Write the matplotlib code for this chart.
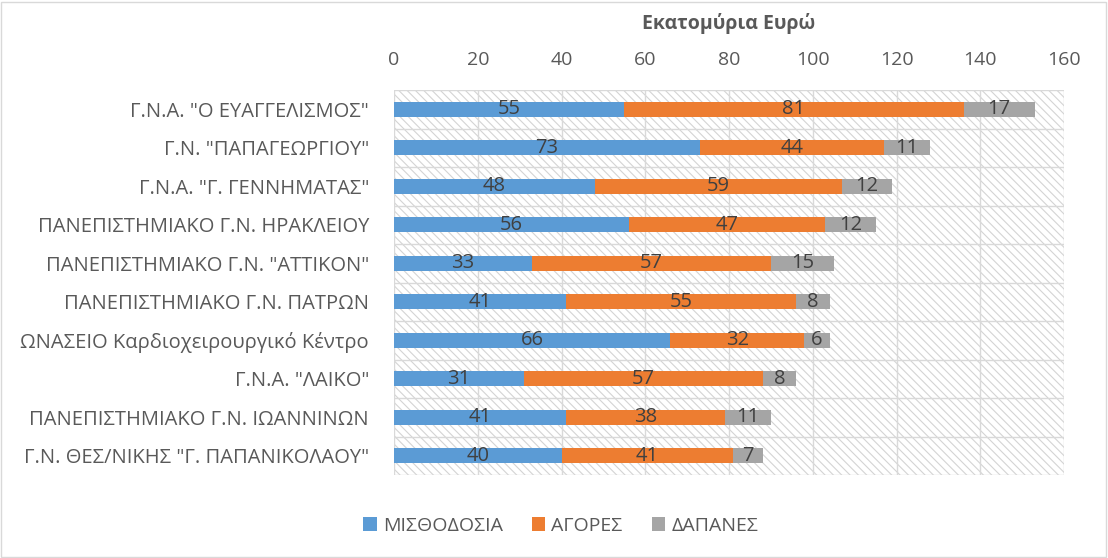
import matplotlib
matplotlib.use("Agg")
import matplotlib.pyplot as plt
from matplotlib.patches import Rectangle
import numpy as np

categories = [
    'Γ.Ν.Α. "Ο ΕΥΑΓΓΕΛΙΣΜΟΣ"',
    'Γ.Ν. "ΠΑΠΑΓΕΩΡΓΙΟΥ"',
    'Γ.Ν.Α. "Γ. ΓΕΝΝΗΜΑΤΑΣ"',
    'ΠΑΝΕΠΙΣΤΗΜΙΑΚΟ Γ.Ν. ΗΡΑΚΛΕΙΟΥ',
    'ΠΑΝΕΠΙΣΤΗΜΙΑΚΟ Γ.Ν. "ΑΤΤΙΚΟΝ"',
    'ΠΑΝΕΠΙΣΤΗΜΙΑΚΟ Γ.Ν. ΠΑΤΡΩΝ',
    'ΩΝΑΣΕΙΟ Καρδιοχειρουργικό Κέντρο',
    'Γ.Ν.Α. "ΛΑΙΚΟ"',
    'ΠΑΝΕΠΙΣΤΗΜΙΑΚΟ Γ.Ν. ΙΩΑΝΝΙΝΩΝ',
    'Γ.Ν. ΘΕΣ/ΝΙΚΗΣ "Γ. ΠΑΠΑΝΙΚΟΛΑΟΥ"',
]
misthodosia = [55, 73, 48, 56, 33, 41, 66, 31, 41, 40]
agores = [81, 44, 59, 47, 57, 55, 32, 57, 38, 41]
dapanes = [17, 11, 12, 12, 15, 8, 6, 8, 11, 7]
series_names = ["ΜΙΣΘΟΔΟΣΙΑ", "ΑΓΟΡΕΣ", "ΔΑΠΑΝΕΣ"]
colors = ["#5B9BD5", "#ED7D31", "#A5A5A5"]
xticks = [0, 20, 40, 60, 80, 100, 120, 140, 160]

plt.rcParams['font.family'] = ['Open Sans', 'DejaVu Sans']
plt.rcParams['hatch.linewidth'] = 0.8
text_color = "#595959"

fig = plt.figure(figsize=(11.08, 5.58), dpi=100)
fig.patch.set_facecolor("white")
fig.add_artist(Rectangle((0.001, 0.002), 0.997, 0.995, transform=fig.transFigure,
                         fill=False, edgecolor="#d9d9d9", linewidth=1))
ax = fig.add_axes([0.3556, 0.1487, 0.6047, 0.69])

n = len(categories)
y = np.arange(n)
# hatched background
ax.add_patch(Rectangle((0, 0), 1, 1, transform=ax.transAxes, facecolor="white",
                       edgecolor="#d4d4d4", hatch="\\\\\\\\", linewidth=0, zorder=0))

left = np.zeros(n)
for vals, col, name in zip([misthodosia, agores, dapanes], colors, series_names):
    vals = np.array(vals, dtype=float)
    ax.barh(y, vals, left=left, height=0.4, color=col, label=name, zorder=3)
    for yi, l, v in zip(y, left, vals):
        ax.text(l + v / 2, yi, f"{int(v)}", ha="center", va="center",
                fontsize=14.5, color="#404040", zorder=4)
    left += vals

ax.set_xlim(0, 160)
ax.set_ylim(n - 0.5, -0.5)
ax.set_xticks(xticks)
ax.xaxis.tick_top()
ax.set_yticks(y)
ax.set_yticklabels(categories)
ax.tick_params(axis="y", length=0, labelsize=14.5, colors=text_color, pad=18)
ax.tick_params(axis="x", length=0, labelsize=14, colors=text_color, pad=15)
for yb in np.arange(-0.5, n, 1.0):
    ax.axhline(yb, color="#d9d9d9", linewidth=1, zorder=1)
for xv in xticks:
    ax.axvline(xv, color="#d9d9d9", linewidth=1, zorder=1)
for s in ax.spines.values():
    s.set_visible(False)

fig.text(0.6579, 0.958, "Εκατομύρια Ευρώ", ha="center", va="center",
         fontsize=14, fontweight="bold", color=text_color)

handles, labels = ax.get_legend_handles_labels()
fig.legend(handles, labels, loc="center", bbox_to_anchor=(0.506, 0.058), ncol=3,
           frameon=False, fontsize=14, labelcolor=text_color, handlelength=0.7,
           handleheight=0.7, handletextpad=0.3, columnspacing=1.5)

fig.savefig("out.png", dpi=100)
